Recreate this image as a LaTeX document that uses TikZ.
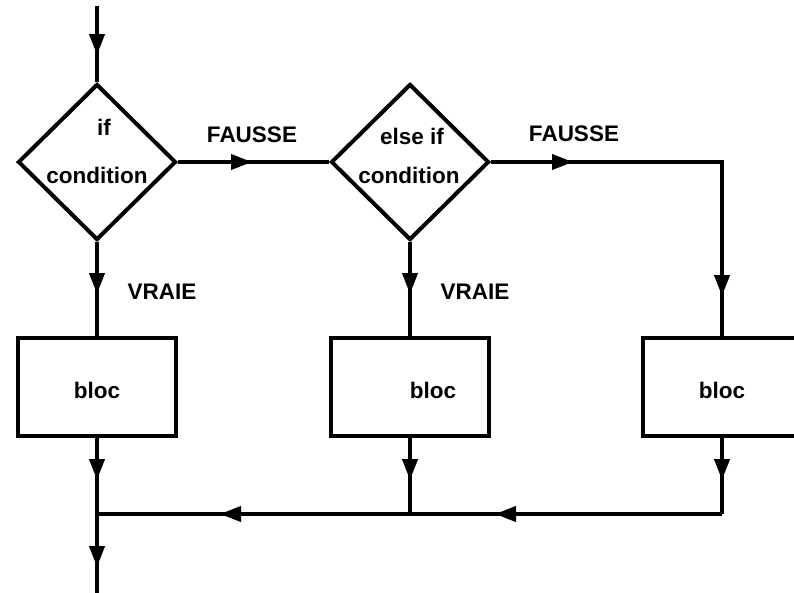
\documentclass[tikz,border=0pt]{standalone}
\usepackage{fontspec}
\setmainfont{Liberation Sans}
\usetikzlibrary{shapes.geometric,arrows.meta,decorations.markings}
\tikzset{
  ln/.style={line width=4pt},
  tipA/.style={postaction={decorate,decoration={markings,mark=at position #1 with {\arrow{Triangle[length=21pt,width=15pt]}}}}},
  cond/.style={diamond,draw,line width=4pt,minimum width=158pt,minimum height=156pt,inner sep=0pt},
  blocbox/.style={rectangle,draw,line width=4pt,minimum width=158pt,minimum height=98pt,inner sep=0pt},
  lbl/.style={inner sep=0pt,font=\fontsize{22.5}{27}\selectfont\bfseries}
}
\begin{document}
\begin{tikzpicture}[x=1pt,y=-1pt]
\useasboundingbox (0,0) rectangle (794,592);
% nodes
\node[cond] (d1) at (97,162) {};
\node[cond] (d2) at (410,162) {};
\node[blocbox] (b1) at (97,387) {};
\node[blocbox] (b2) at (410,387) {};
\node[blocbox] (b3) at (722,387) {};
\coordinate (start) at (97,6);
\coordinate (j1) at (97,514);
\coordinate (j2) at (410,514);
\coordinate (j3) at (722,514);
\coordinate (end) at (97,600);
% texts
\node[lbl] (t1) at (104,127) {if};
\node[lbl] (t2) at (97,175) {condition};
\node[lbl] (t3) at (412,136) {else if};
\node[lbl] (t4) at (409,175) {condition};
\node[lbl] (f1) at (252,135) {FAUSSE};
\node[lbl] (f2) at (574,134) {FAUSSE};
\node[lbl] (v1) at (162,292) {VRAIE};
\node[lbl] (v2) at (475,292) {VRAIE};
\node[lbl] (l1) at (97,390) {bloc};
\node[lbl] (l2) at (433,390) {bloc};
\node[lbl] (l3) at (722,390) {bloc};
% connectors
\draw[ln,tipA=49pt] (start) -- (d1.north);
\draw[ln,tipA=52pt] (d1.south) -- (b1.north);
\draw[ln,tipA=52pt] (d2.south) -- (b2.north);
\draw[ln,tipA=74pt] (d1.east) -- (d2.west);
\draw[ln,tipA=82pt,tipA=365pt] (d2.east) -| (b3.north);
\draw[ln,tipA=42pt] (b1.south) -- (j1);
\draw[ln,tipA=42pt] (b2.south) -- (j2);
\draw[ln,tipA=42pt] (b3.south) -- (j3);
\draw[ln,tipA=227pt] (j3) -- (j2);
\draw[ln,tipA=190pt] (j2) -- (j1);
\draw[ln,tipA=53pt] (j1) -- (end);
\end{tikzpicture}
\end{document}
